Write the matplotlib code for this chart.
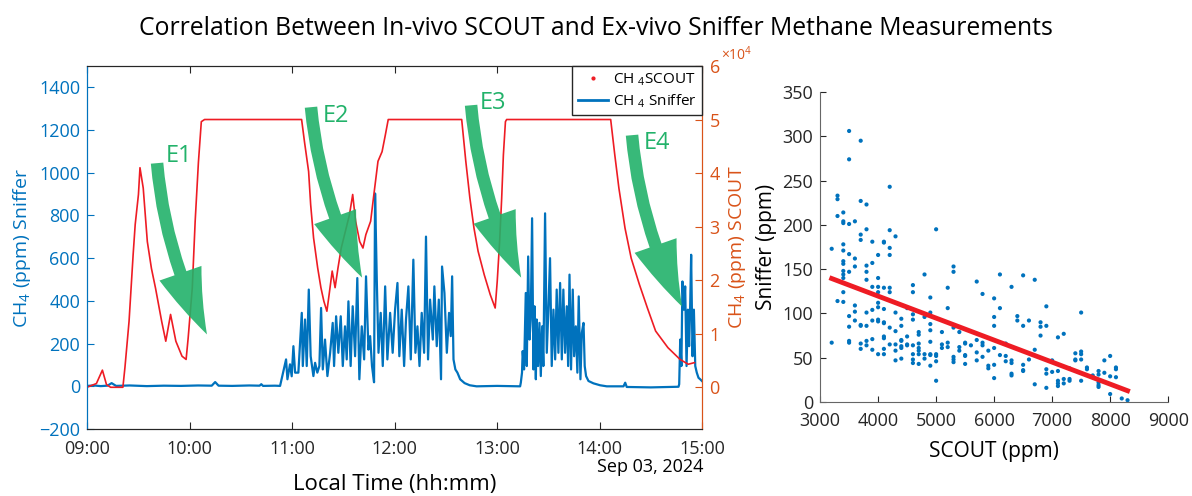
import numpy as np
import matplotlib
matplotlib.use("Agg")
import matplotlib.pyplot as plt
from matplotlib.lines import Line2D
from matplotlib.ticker import FuncFormatter

plt.rcParams['font.family'] = ['Open Sans', 'DejaVu Sans']
plt.rcParams['mathtext.fontset'] = 'custom'
plt.rcParams['mathtext.rm'] = 'Open Sans'
plt.rcParams['mathtext.it'] = 'Open Sans:italic'

BLUE = '#0072BD'
ORANGE = '#D95319'
RED = '#EE1C24'
GREEN = '#22B26A'
DARK = '#262626'

# ---- time series (minutes after 09:00) ----
sniffer_min = [0, 4, 8, 12, 14.4, 17, 25, 35, 45, 55, 65, 73, 75, 77, 85, 95, 101, 102, 103, 110, 113,
               116.5, 117.3, 118.8, 119.8, 120.8, 121.8, 123.7, 125.7, 126.3, 127.6,
               128.6, 129.8, 130.9, 132.5, 133.5, 134.8, 136.0, 137.0, 138.0, 139.3,
               140.7, 142.3, 143.8, 144.6, 145.8, 147.1, 148.5, 149.7, 151.0, 152.0,
               153.0, 154.3, 155.5, 156.9, 158.2, 159.4, 160.8, 162.2, 163.3, 164.7,
               165.7, 166.8, 168.0, 168.6, 169.6, 170.6, 171.9, 173.1, 174.5, 175.8,
               177.4, 178.9, 180.3, 181.7, 182.8, 184.2, 185.6, 186.7, 188.1, 189.5,
               191.0, 192.2, 193.4, 194.6, 195.9, 197.3, 198.4, 199.6, 200.8, 202.4,
               203.3, 204.7, 205.9, 207.2, 207.8, 209.2, 210.6, 211.9, 212.9, 213.7,
               214.5, 215.6, 216.8, 218.4,
               221, 224, 228, 240, 253.5,
               253.9, 254.6, 255.0, 255.8, 256.8, 257.4, 258.2, 259.0, 259.7, 260.5,
               261.3, 261.9, 262.7, 263.2, 264.0, 264.8, 265.6, 266.4, 267.1, 268.1,
               269.1, 270.1, 271.0, 272.0, 273.0, 274.0, 274.9, 275.9, 276.9, 277.9,
               278.8, 279.8, 280.8, 281.6, 282.4, 283.3, 284.3, 285.1, 286.1, 287.0,
               287.8, 288.8, 289.6, 290.6, 291.3, 292.1, 293.5, 296.4, 300.3, 304.2,
               314.0, 315.0, 315.9, 330, 346.2, 346.6, 347.2, 347.9, 348.5, 349.3,
               350.1, 350.9, 351.7, 352.4, 353.0, 353.6, 354.4, 355.2, 356.0, 356.9,
               357.9, 358.9, 359.9]
sniffer_ppm = [2, 4, 1, 3, 15, 2, 4, 1, 3, 2, 4, 3, 20, 3, 2, 4, 3, 10, 2, 3, 2,
               126, 33, 103, 47, 188, 64, 64, 344, 95, 313,
               95, 453, 141, 48, 110, 64, 95, 367, 79, 219,
               48, 157, 297, 95, 328, 157, 328, 95, 281, 126,
               398, 95, 375, 141, 507, 33, 281, 126, 515, 172,
               235, 95, 19, 903, 499, 157, 344, 95, 468, 126,
               344, 157, 359, 484, 141, 359, 95, 313, 468, 126,
               593, 157, 281, 95, 344, 157, 701, 126, 406, 219,
               468, 188, 406, 33, 561, 437, 157, 344, 235, 515,
               126, 79, 64, 33,
               15, 5, 0, 2, 0,
               17, 64, 165, 79, 437, 95, 608, 219, 313, 787,
               79, 375, 33, 313, 95, 297, 48, 281, 95, 810,
               157, 375, 600, 95, 359, 126, 453, 157, 484, 126,
               453, 157, 375, 95, 523, 79, 453, 141, 281, 64,
               421, 33, 250, 297, 95, 48, 25, 14, 5, 0,
               0, 17, -3, -5, -2, 10, 219, 95, 491, 359,
               468, 95, 359, 188, 367, 616, 141, 359, 95, 64,
               40, 33, 25]

scout_min = [0, 5.5, 9.0, 11.4, 13.8, 21.0, 22.2, 24.6, 27.0, 28.2,
             30.1, 31.0, 32.9, 35.3, 37.7, 40.1, 43.7, 46.1, 48.9, 52.0,
             55.6, 58.0, 59.2, 61.6, 63.3, 65.2, 66.9, 68.8,
             125.6, 127.3, 129.7, 130.9, 132.6, 135.0, 136.9, 138.6, 140.4, 141.7,
             143.5, 145.2, 146.9, 148.8, 151.2, 153.6, 155.5, 157.2, 159.6, 161.5,
             163.2, 166.0, 167.9, 170.3, 172.7, 174.6, 176.3,
             219.3, 221.7, 224.1, 226.5, 228.9, 232.5, 236.0, 238.9, 240.1, 241.5,
             242.7, 243.7, 244.9, 245.6,
             306.5, 308.9, 311.3, 314.9, 318.5, 323.3, 328.0, 332.8, 340.0, 347.1, 351.9, 355.5]
scout_ppm = [0, 700, 3200, 500, 0, 0, 3700, 12300, 24800, 30400,
             36000, 41000, 37200, 27200, 22200, 18500, 12300, 8600, 13600, 8600,
             5800, 5200, 9200, 18500, 31000, 42000, 49600, 50000,
             50000, 45800, 40300, 34100, 27900, 22300, 18600, 16100, 14200, 17300,
             21700, 18600, 22300, 26000, 29100, 32200, 36000, 31000, 27200, 26000,
             28500, 31000, 36000, 42200, 44000, 47100, 50000,
             50000, 42200, 35300, 29700, 25400, 21000, 17300, 14800, 19800, 27200,
             35300, 43400, 49600, 50000,
             50000, 43400, 37200, 29700, 24100, 19200, 14800, 10500, 7400, 5200, 4300, 4600]

# ---- scatter: SCOUT readings grouped by 100 ppm column ----
scout_cols = [3200, 3300, 3400, 3500, 3600, 3700, 3800, 3900, 4000, 4100,
              4200, 4300, 4400, 4500, 4600, 4700, 4800, 4900, 5000, 5100,
              5200, 5300, 5400, 5500, 5600, 5700, 5800, 5900, 6000, 6100,
              6200, 6300, 6400, 6500, 6600, 6700, 6800, 6900, 7000, 7100,
              7200, 7300, 7400, 7500, 7600, 7700, 7800, 7900, 8000, 8100,
              8200, 8300]
sniffer_cols = [[173, 67], [233, 229, 210, 114],
                [214, 204, 202, 178, 171, 159, 156, 148, 144, 140, 124, 113],
                [306, 274, 201, 167, 147, 97, 85, 69, 67],
                [204, 162, 153, 109, 102, 92],
                [295, 227, 189, 183, 87, 86, 66, 60],
                [223, 195, 154, 147, 138, 101, 86, 69, 64],
                [181, 157, 130, 104, 92, 71, 59],
                [166, 140, 130, 124, 112, 107, 93, 91, 54],
                [181, 180, 129, 105, 90, 89, 74, 72, 60, 54],
                [243, 194, 174, 166, 129, 124, 84, 65],
                [187, 101, 80, 65, 58, 47],
                [94, 86, 70, 69, 63, 61, 49],
                [106, 74, 65, 64],
                [132, 124, 99, 93, 64, 54, 48, 44],
                [79, 76, 66, 61, 58, 54, 43],
                [144, 96, 54, 49],
                [118, 101, 88, 81, 68, 54, 53, 41],
                [195, 54, 52, 46, 24],
                [79, 65, 61],
                [129, 106, 67, 62],
                [153, 147, 84, 51, 48, 45],
                [79, 62, 58],
                [67, 66, 53, 52, 43],
                [64],
                [136, 70, 56, 47],
                [122, 67, 64, 51],
                [58, 41, 38],
                [117, 96, 86, 61, 42, 27],
                [144, 106, 53],
                [66, 52, 46],
                [130, 47, 44, 32, 30],
                [97, 92],
                [143, 86, 42, 36, 35],
                [92, 48],
                [138, 59, 20],
                [90, 85, 75],
                [108, 86, 37, 32, 16],
                [47, 34],
                [73, 35, 24, 21, 18],
                [77, 26, 21],
                [38, 26, 24],
                [55, 48, 47],
                [101, 57, 54, 48, 24],
                [39, 37],
                [30],
                [35, 31, 22, 19, 17],
                [47, 33],
                [52, 29, 9],
                [39, 37, 28],
                [4],
                [2]]

events = ['E1', 'E2', 'E3', 'E4']
# arrow tail / tip and label spots, in (minutes, sniffer ppm)
arrow_tail = [(41.0, 1045), (131.1, 1307), (224.8, 1316), (319.0, 1176)]
arrow_tip = [(70.2, 243), (161.0, 509), (254.1, 509), (348.3, 373)]
label_pos = [(53.9, 1080), (145.8, 1266), (237.7, 1327), (333.7, 1140)]

fig = plt.figure(figsize=(11.92, 4.96), dpi=100)

ax = fig.add_axes([0.073, 0.135, 0.516, 0.732])
ax.plot(sniffer_min, sniffer_ppm, color=BLUE, lw=1.6)
ax.set_xlim(0, 360)
ax.set_ylim(-200, 1500)
ax.set_yticks(range(-200, 1401, 200))
ax.set_xticks(range(0, 361, 60))
ax.xaxis.set_major_formatter(FuncFormatter(lambda m, p: f"{9 + int(m) // 60:02d}:00"))
ax.tick_params(axis='both', direction='in', length=5, labelsize=13)
ax.tick_params(axis='x', top=True, colors=DARK, pad=8)
ax.tick_params(axis='y', colors=BLUE, pad=5)
ax.set_ylabel("CH$_4$ (ppm) Sniffer", color=BLUE, fontsize=14, labelpad=4)
ax.set_xlabel("Local Time (hh:mm)", fontsize=16, va='center')
ax.xaxis.set_label_coords(0.5, -0.152)
ax.text(0.915, -0.105, "Sep 03, 2024", transform=ax.transAxes, ha='center', va='center', fontsize=13)

ax2 = ax.twinx()
ax2.plot(scout_min, scout_ppm, color=RED, lw=1.2)
ax2.set_ylim(-7800, 60000)
ax2.set_yticks(range(0, 60001, 10000))
ax2.ticklabel_format(axis='y', style='sci', scilimits=(4, 4), useMathText=True)
ax2.tick_params(axis='y', direction='in', length=5, labelsize=13, colors=ORANGE, pad=5)
ax2.yaxis.get_offset_text().set_visible(False)
ax2.text(1.031, 1.03, r"$\times10^{4}$", transform=ax2.transAxes, color=ORANGE,
         fontsize=10, ha='left', va='center')
ax2.set_ylabel("CH$_4$ (ppm) SCOUT", color=ORANGE, fontsize=14, labelpad=4)
for a in (ax, ax2):
    a.spines['left'].set_color(BLUE)
    a.spines['right'].set_color(ORANGE)
    a.spines['top'].set_color(DARK)
    a.spines['bottom'].set_color(DARK)

for name, tail, tip, lab in zip(events, arrow_tail, arrow_tip, label_pos):
    ax2.annotate('', xy=tip, xytext=tail, xycoords=ax.transData, textcoords=ax.transData,
                 annotation_clip=False,
                 arrowprops=dict(arrowstyle='simple,head_length=48,head_width=32,tail_width=9',
                                 connectionstyle='arc3,rad=0.1', color=GREEN, alpha=0.9,
                                 shrinkA=0, shrinkB=0, mutation_scale=1, lw=0))
    ax2.text(lab[0], lab[1], name, transform=ax.transData, color=GREEN, fontsize=17,
             ha='center', va='center')

handles = [Line2D([], [], color=RED, marker='.', ls='none', ms=4),
           Line2D([], [], color=BLUE, lw=2)]
leg = ax2.legend(handles, ["CH $_4$SCOUT", "CH $_4$ Sniffer"], loc='upper right',
                 fontsize=11, fancybox=False, framealpha=1, edgecolor=DARK,
                 borderaxespad=0, handlelength=2.0, handletextpad=0.3,
                 borderpad=0.35, labelspacing=0.3)
leg.get_frame().set_linewidth(1.0)

# ---- scatter ----
scout_x = np.array([c for c, ys in zip(scout_cols, sniffer_cols) for _ in ys])
sniffer_y = np.array([v for ys in sniffer_cols for v in ys])
coef = np.polyfit(scout_x, sniffer_y, 1)
fit_x = np.array([scout_x.min(), scout_x.max()])

sx = fig.add_axes([0.688, 0.1895, 0.292, 0.625])
sx.scatter(scout_x, sniffer_y, s=9, color=BLUE, edgecolors='none', zorder=2)
sx.plot(fit_x, np.polyval(coef, fit_x), color=RED, lw=3.5, zorder=3)
sx.set_xlim(3000, 9000)
sx.set_ylim(0, 350)
sx.set_xticks(range(3000, 9001, 1000))
sx.set_yticks(range(0, 351, 50))
sx.tick_params(direction='in', length=4, labelsize=13, colors=DARK)
sx.tick_params(axis='x', pad=7)
sx.tick_params(axis='y', pad=5)
sx.spines['top'].set_visible(False)
sx.spines['right'].set_visible(False)
sx.spines['left'].set_color('#666666')
sx.spines['bottom'].set_color('#666666')
sx.set_xlabel("SCOUT (ppm)", fontsize=15, labelpad=8)
sx.set_ylabel("Sniffer (ppm)", fontsize=15, labelpad=4)

fig.text(0.5, 0.943, "Correlation Between In-vivo SCOUT and Ex-vivo Sniffer Methane Measurements",
         ha='center', va='center', fontsize=17.8)

fig.savefig("out.png", dpi=100)
